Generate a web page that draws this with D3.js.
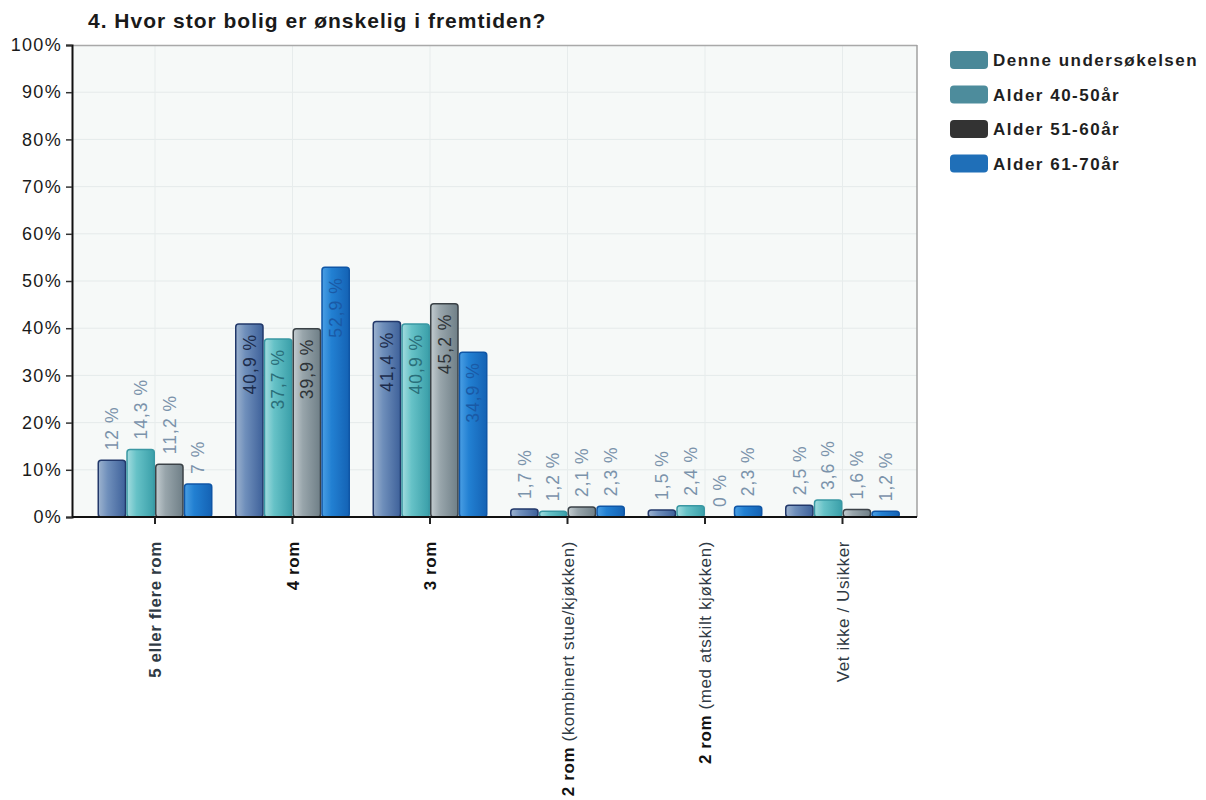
<!DOCTYPE html>
<html>
<head>
<meta charset="utf-8">
<script src="https://cdn.jsdelivr.net/npm/d3@7"></script>
<style>
  body { margin: 0; background: #ffffff; }
  svg { display: block; font-family: "Liberation Sans", Arial, sans-serif; }
</style>
</head>
<body>
<svg id="chart" width="1206" height="800"></svg>
<script>
// Survey question: desired future dwelling size, by respondent group
const title = "4. Hvor stor bolig er ønskelig i fremtiden?";

const categories = [
  "5 eller flere rom",
  "4 rom",
  "3 rom",
  "2 rom (kombinert stue/kjøkken)",
  "2 rom (med atskilt kjøkken)",
  "Vet ikke / Usikker"
];

const seriesNames = ["Denne undersøkelsen", "Alder 40-50år", "Alder 51-60år", "Alder 61-70år"];

const denne   = [12,   40.9, 41.4, 1.7, 1.5, 2.5];
const alder40 = [14.3, 37.7, 40.9, 1.2, 2.4, 3.6];
const alder51 = [11.2, 39.9, 45.2, 2.1, 0,   1.6];
const alder61 = [7,    52.9, 34.9, 2.3, 2.3, 1.2];

const seriesValues = [denne, alder40, alder51, alder61];

const yTicks = [0, 10, 20, 30, 40, 50, 60, 70, 80, 90, 100];

// Styling per series: gradient stops, outline, label colour inside bars, legend swatch
const styles = [
  { stops: ["#9db3cf", "#6f8fbb", "#3e619a"], stroke: "#22386a", inside: "#1c2c4c", legend: "#4a8898" },
  { stops: ["#a3dcdf", "#66c2c7", "#3a9fa9"], stroke: "#3a98a3", inside: "#2a6f7a", legend: "#4d8c9c" },
  { stops: ["#c3ccd0", "#98a5ab", "#6f7f87"], stroke: "#3b4247", inside: "#2e3438", legend: "#333333" },
  { stops: ["#4a9fe4", "#2280d2", "#1462b4"], stroke: "#0f56a6", inside: "#1a5aa6", legend: "#1f6fb8" }
];

const svg = d3.select("#chart");

const plot = { left: 72, right: 917, top: 45, bottom: 517 };

const x = d3.scaleBand().domain(categories).range([86.25, 911.25]).padding(0);
const xInner = d3.scaleBand().domain(d3.range(seriesNames.length))
  .range([11.25, x.bandwidth() - 11.25]).padding(0);
const y = d3.scaleLinear().domain([0, 100]).range([plot.bottom, plot.top]);

// gradients
const defs = svg.append("defs");
styles.forEach((s, i) => {
  const g = defs.append("linearGradient").attr("id", "grad" + i)
    .attr("x1", "0%").attr("x2", "100%").attr("y1", "0%").attr("y2", "0%");
  g.append("stop").attr("offset", "0%").attr("stop-color", s.stops[0]);
  g.append("stop").attr("offset", "35%").attr("stop-color", s.stops[1]);
  g.append("stop").attr("offset", "100%").attr("stop-color", s.stops[2]);
});

// plot background
svg.append("rect")
  .attr("x", plot.left).attr("y", plot.top)
  .attr("width", plot.right - plot.left).attr("height", plot.bottom - plot.top)
  .attr("fill", "#f6f9f8");

// faint grid
svg.append("g").selectAll("line.h").data(yTicks.slice(1, -1)).join("line")
  .attr("x1", plot.left).attr("x2", plot.right)
  .attr("y1", d => y(d)).attr("y2", d => y(d))
  .attr("stroke", "#e5eaea").attr("stroke-width", 1);
svg.append("g").selectAll("line.v").data(categories).join("line")
  .attr("x1", d => x(d) + x.bandwidth() / 2).attr("x2", d => x(d) + x.bandwidth() / 2)
  .attr("y1", plot.top).attr("y2", plot.bottom)
  .attr("stroke", "#e7ecec").attr("stroke-width", 1);

// frame: top and right border
svg.append("line").attr("x1", plot.left).attr("x2", plot.right)
  .attr("y1", plot.top + 0.5).attr("y2", plot.top + 0.5)
  .attr("stroke", "#a9a9a9").attr("stroke-width", 1.5);
svg.append("line").attr("x1", plot.right).attr("x2", plot.right)
  .attr("y1", plot.top).attr("y2", plot.bottom)
  .attr("stroke", "#a0a0a0").attr("stroke-width", 1.5);

// bars
const groups = svg.append("g").selectAll("g").data(categories).join("g")
  .attr("transform", d => `translate(${x(d)},0)`);

const barData = (c, ci) => seriesValues.map((vals, si) => ({ si, ci, v: vals[ci] }));

groups.selectAll("rect").data((c, ci) => barData(c, ci)).join("rect")
  .attr("x", d => xInner(d.si) + 0.75)
  .attr("width", xInner.bandwidth() - 1.5)
  .attr("y", d => y(d.v))
  .attr("height", d => Math.max(0, y(0) - y(d.v)))
  .attr("rx", 3)
  .attr("fill", d => `url(#grad${d.si})`)
  .attr("stroke", d => styles[d.si].stroke)
  .attr("stroke-width", 1.5)
  .style("display", d => d.v > 0 ? null : "none");

// value labels, rotated
const fmt = v => String(v).replace(".", ",") + " %";
groups.selectAll("text").data((c, ci) => barData(c, ci)).join("text")
  .attr("transform", d => {
    const cx = xInner(d.si) + xInner.bandwidth() / 2;
    const inside = d.v > 30;
    const yy = inside ? y(d.v) + 10 : y(d.v) - 10;
    return `translate(${cx},${yy}) rotate(-90)`;
  })
  .attr("text-anchor", d => d.v > 30 ? "end" : "start")
  .attr("dy", "0.36em")
  .attr("font-size", 17.5)
  .attr("letter-spacing", 1)
  .attr("fill", d => d.v > 30 ? styles[d.si].inside : "#7b93ab")
  .text(d => fmt(d.v));

// y axis
const yAxis = svg.append("g").attr("transform", `translate(${plot.left},0)`)
  .call(d3.axisLeft(y).tickValues(yTicks).tickFormat(d => d + "%").tickSize(6).tickPadding(4));
yAxis.select(".domain").attr("stroke", "#111").attr("stroke-width", 2);
yAxis.selectAll(".tick line").attr("stroke", "#333").attr("stroke-width", 1.5);
yAxis.selectAll(".tick text")
  .attr("font-size", 18).attr("letter-spacing", 1.3).attr("fill", "#1a1a1a")
  .attr("font-family", "Liberation Sans, Arial, sans-serif");

// x axis
const xAxis = svg.append("g").attr("transform", `translate(0,${plot.bottom})`)
  .call(d3.axisBottom(x).tickSize(7).tickFormat(""));
xAxis.select(".domain").attr("stroke", "#111").attr("stroke-width", 2)
  .attr("d", `M${plot.left},0H${plot.right}`);
xAxis.selectAll(".tick line").attr("stroke", "#222").attr("stroke-width", 2);

// category labels, rotated, split into bold lead and regular remainder
const catLabels = svg.append("g").selectAll("text").data(categories).join("text")
  .attr("transform", d => `translate(${x(d) + x.bandwidth() / 2},${plot.bottom + 24}) rotate(-90)`)
  .attr("text-anchor", "end")
  .attr("dy", "0.36em")
  .attr("font-size", 17)
  .attr("letter-spacing", 0.6)
  .attr("fill", "#2f3a44");
catLabels.each(function(d) {
  const t = d3.select(this);
  const m = d.match(/^(\d rom)(.*)$/);
  if (m) {
    t.append("tspan").attr("font-weight", "bold").attr("fill", "#111").text(m[1]);
    if (m[2]) t.append("tspan").text(m[2]);
  } else {
    t.append("tspan").attr("font-weight", d.startsWith("Vet") ? "normal" : "bold").text(d);
  }
});

// title
svg.append("text")
  .attr("x", 88).attr("y", 28)
  .attr("font-size", 21).attr("font-weight", "bold").attr("letter-spacing", 1)
  .attr("fill", "#1a1a1a")
  .text(title);

// legend
const legend = svg.append("g").attr("transform", "translate(950,51)");
const li = legend.selectAll("g").data(seriesNames).join("g")
  .attr("transform", (d, i) => `translate(0,${i * 34.5})`);
li.append("rect").attr("width", 38).attr("height", 18).attr("rx", 4)
  .attr("fill", (d, i) => styles[i].legend);
li.append("text").attr("x", 43).attr("y", 9).attr("dy", "0.36em")
  .attr("font-size", 17).attr("font-weight", "bold").attr("letter-spacing", 1.5)
  .attr("fill", "#1f1f1f")
  .text(d => d);
</script>
</body>
</html>
